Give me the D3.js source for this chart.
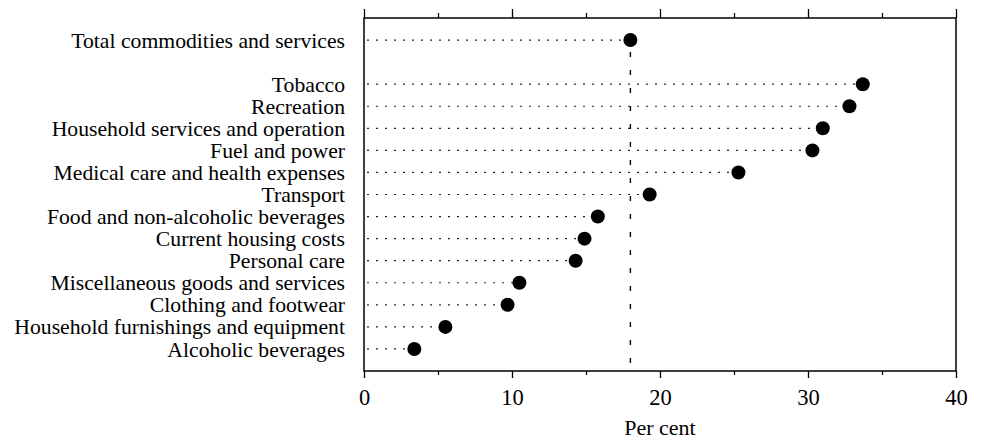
<!DOCTYPE html>
<html>
<head>
<meta charset="utf-8">
<script src="https://cdn.jsdelivr.net/npm/d3@7"></script>
<style>
  body { margin: 0; background: #fff; }
  text { font-family: "Liberation Serif", "Times New Roman", serif; fill: #000; }
</style>
</head>
<body>
<script>
var width = 982,
    height = 441,
    margin = {top: 18, right: 26, bottom: 70, left: 364};

// data
var totalLabel = "Total commodities and services";
var totalValue = 18.0;

var categories = ["Tobacco", "Recreation", "Household services and operation",
    "Fuel and power", "Medical care and health expenses", "Transport",
    "Food and non-alcoholic beverages", "Current housing costs", "Personal care",
    "Miscellaneous goods and services", "Clothing and footwear",
    "Household furnishings and equipment", "Alcoholic beverages"];

var values = [33.7, 32.8, 31.0, 30.3, 25.3, 19.3, 15.8, 14.9, 14.3, 10.5, 9.7, 5.5, 3.4];

var majorTicks = [0, 10, 20, 30, 40],
    minorTicks = [5, 15, 25, 35];

var rows = [{label: totalLabel, value: totalValue}].concat(
    categories.map(function(c, i) { return {label: c, value: values[i]}; }));

var x = d3.scaleLinear()
    .domain([0, 40])
    .range([margin.left, width - margin.right]);

// blank slot between the total and the categories
var y = d3.scalePoint()
    .domain([totalLabel, " "].concat(categories))
    .range([margin.top, height - margin.bottom])
    .padding(1);

var svg = d3.select("body").append("svg")
    .attr("width", width)
    .attr("height", height);

var bottom = height - margin.bottom;

// dotted leaders
svg.append("g").selectAll("line")
    .data(rows)
  .enter().append("line")
    .attr("x1", x(0) + 3)
    .attr("x2", function(d) { return x(d.value) - 5; })
    .attr("y1", function(d) { return y(d.label); })
    .attr("y2", function(d) { return y(d.label); })
    .attr("stroke", "#222")
    .attr("stroke-width", 1.2)
    .attr("stroke-dasharray", "2,7");

// dashed reference line at the total
svg.append("line")
    .attr("x1", x(totalValue))
    .attr("x2", x(totalValue))
    .attr("y1", y(totalLabel) + 12)
    .attr("y2", bottom)
    .attr("stroke", "#000")
    .attr("stroke-width", 1.4)
    .attr("stroke-dasharray", "5,13");

// frame
svg.append("rect")
    .attr("x", x(0))
    .attr("y", margin.top)
    .attr("width", x(40) - x(0))
    .attr("height", bottom - margin.top)
    .attr("fill", "none")
    .attr("stroke", "#000")
    .attr("stroke-width", 1.5);

// axes
function styleAxis(g) {
  g.select(".domain").remove();
  g.selectAll(".tick line").attr("stroke", "#000").attr("stroke-width", 1.3);
}

svg.append("g")
    .attr("transform", "translate(0," + margin.top + ")")
    .call(d3.axisTop(x).tickValues(majorTicks).tickSize(9).tickFormat(""))
    .call(styleAxis);
svg.append("g")
    .attr("transform", "translate(0," + margin.top + ")")
    .call(d3.axisTop(x).tickValues(minorTicks).tickSize(5).tickFormat(""))
    .call(styleAxis);

svg.append("g")
    .attr("transform", "translate(0," + bottom + ")")
    .call(d3.axisBottom(x).tickValues(majorTicks).tickSize(7).tickPadding(11).tickFormat(d3.format("d")))
    .call(styleAxis)
    .selectAll("text")
    .style("font-family", "'Liberation Serif', serif")
    .style("font-size", "22.5px");
svg.append("g")
    .attr("transform", "translate(0," + bottom + ")")
    .call(d3.axisBottom(x).tickValues(minorTicks).tickSize(4).tickFormat(""))
    .call(styleAxis);

svg.append("text")
    .attr("x", x(20))
    .attr("y", 435)
    .attr("text-anchor", "middle")
    .style("font-size", "22px")
    .text("Per cent");

// category labels
svg.append("g").selectAll("text")
    .data(rows)
  .enter().append("text")
    .attr("x", 345)
    .attr("y", function(d) { return y(d.label); })
    .attr("dy", "0.35em")
    .attr("text-anchor", "end")
    .style("font-size", "21.7px")
    .text(function(d) { return d.label; });

// dots
svg.append("g").selectAll("circle")
    .data(rows)
  .enter().append("circle")
    .attr("cx", function(d) { return x(d.value); })
    .attr("cy", function(d) { return y(d.label); })
    .attr("r", 7)
    .attr("fill", "#000");
</script>
</body>
</html>
